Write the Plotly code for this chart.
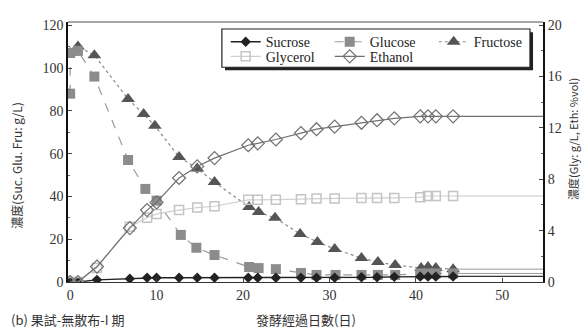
import plotly.graph_objects as go

# ---- data ----
days = [0, 0.9, 3.1, 6.9, 8.9, 10, 12.6, 14.7, 16.7, 20.6, 21.7, 23.8, 26.7, 28.5,
        30.6, 33.7, 35.5, 37.5, 40.5, 41.4, 42.3, 44.3]
sucrose = [0, 0, 1.0, 1.5, 2.0, 2.0, 2.0, 2.0, 2.0, 2.0, 2.0, 2.0, 2.0, 2.0,
           2.0, 2.2, 2.2, 2.4, 2.5, 2.5, 2.5, 2.6]
glucose_days = [0, 0, 0.9, 2.8, 6.7, 8.7, 10, 12.8, 14.6, 16.7, 20.7, 21.8, 23.8, 26.7,
                28.5, 30.7, 33.7, 35.6, 37.6, 40.5, 41.4, 42.3, 44.3]
glucose = [88, 107, 108, 96, 57, 43.5, 38, 22, 16, 12.6, 7.0, 6.5, 6.0, 4.2,
           3.3, 3.3, 3.3, 3.3, 3.3, 4.0, 4.0, 4.0, 4.0]
fructose_days = [0, 0.9, 2.8, 6.7, 8.5, 9.8, 12.6, 14.7, 16.7, 20.7, 21.8, 23.7, 26.6,
                 28.6, 30.6, 33.7, 35.6, 37.6, 40.6, 41.4, 42.3, 44.3]
fructose = [107, 110, 106, 85.5, 78.5, 73, 58.4, 53, 46.7, 35, 32.7, 30, 22.4,
            18.7, 15.4, 11.2, 9.3, 8.0, 6.5, 7.0, 6.5, 6.0]
glycerol = [0, 0, 1.1, 4.3, 5.0, 5.3, 5.6, 5.8, 5.9, 6.4, 6.4, 6.4, 6.45, 6.5,
            6.5, 6.55, 6.55, 6.55, 6.6, 6.7, 6.7, 6.7]
ethanol = [0, 0, 1.2, 4.2, 5.6, 6.2, 8.1, 9.0, 9.65, 10.65, 10.8, 11.1, 11.6, 11.9,
           12.1, 12.4, 12.6, 12.75, 12.9, 12.9, 12.9, 12.9]
x_end = 55

x_ticks = [0, 10, 20, 30, 40, 50]
left_ticks = [0, 20, 40, 60, 80, 100, 120]
right_ticks = [0, 4, 8, 12, 16, 20]

FONT = "Liberation Serif"
CJK = "Noto Sans CJK TC"

fig = go.Figure()

def ext(xs, ys, color, dash, width, yaxis):
    fig.add_trace(go.Scatter(x=[xs[-1], x_end], y=[ys[-1], ys[-1]], mode="lines",
                             line=dict(color=color, dash=dash, width=width),
                             showlegend=False, hoverinfo="skip", yaxis=yaxis))

# glycerol (right axis)
ext(days, glycerol, "#c8c8c8", "solid", 1.2, "y2")
fig.add_trace(go.Scatter(x=days, y=glycerol, name="Glycerol", yaxis="y2",
                         mode="lines+markers", legendrank=4, legend="legend2",
                         line=dict(color="#cfcfcf", width=1.2),
                         marker=dict(symbol="square-open", size=9,
                                     color="#c4c4c4", line=dict(width=1.5))))
# ethanol (right axis)
ext(days, ethanol, "#707070", "solid", 1.2, "y2")
fig.add_trace(go.Scatter(x=days, y=ethanol, name="Ethanol", yaxis="y2",
                         mode="lines+markers", legendrank=5, legend="legend2",
                         line=dict(color="#707070", width=1.2),
                         marker=dict(symbol="diamond-open", size=10,
                                     color="#707070", line=dict(width=1.2))))
# fructose
ext(fructose_days, fructose, "#9a9a9a", "solid", 1.0, "y")
fig.add_trace(go.Scatter(x=fructose_days, y=fructose, name="Fructose",
                         mode="lines+markers", legendrank=3, legend="legend",
                         line=dict(color="#8a8a8a", width=1.2, dash="dot"),
                         marker=dict(symbol="triangle-up", size=12, color="#555555")))
# glucose
ext(glucose_days, glucose, "#9a9a9a", "solid", 1.0, "y")
fig.add_trace(go.Scatter(x=glucose_days, y=glucose, name="Glucose",
                         mode="lines+markers", legendrank=2, legend="legend",
                         line=dict(color="#9a9a9a", width=1.2, dash="dash"),
                         marker=dict(symbol="square", size=10, color="#8c8c8c")))
# sucrose
ext(days, sucrose, "#333333", "solid", 1.2, "y")
fig.add_trace(go.Scatter(x=days, y=sucrose, name="Sucrose",
                         mode="lines+markers", legendrank=1, legend="legend",
                         line=dict(color="#222222", width=1.4),
                         marker=dict(symbol="diamond", size=8, color="#222222")))

legend_common = dict(orientation="h", xanchor="left", yanchor="top",
                     bgcolor="rgba(0,0,0,0)", borderwidth=0,
                     entrywidth=59, entrywidthmode="pixels",
                     font=dict(family=FONT, size=14, color="#222222"),
                     traceorder="normal", itemwidth=30)

fig.update_layout(
    width=587, height=331,
    margin=dict(l=68, r=44, t=22, b=49),
    paper_bgcolor="white", plot_bgcolor="white",
    font=dict(family=FONT, size=13, color="#333333"),
    showlegend=True,
    legend=dict(x=0.332, y=0.984, **legend_common),
    legend2=dict(x=0.332, y=0.928, **legend_common),
    xaxis=dict(range=[-0.25, 54.7], tickvals=x_ticks, ticks="inside", ticklen=4,
               showline=True, linecolor="#333333", linewidth=1.2, mirror=False,
               showgrid=False, zeroline=False,
               tickfont=dict(family=FONT, size=14, color="#333333")),
    yaxis=dict(range=[0, 121.5], tickvals=left_ticks, ticks="inside", ticklen=4,
               minor=dict(ticks="inside", ticklen=2, dtick=10, tickcolor="#666666"),
               showline=True, linecolor="#111111", linewidth=1.5,
               showgrid=False, zeroline=False,
               tickfont=dict(family=FONT, size=14, color="#333333")),
    yaxis2=dict(range=[0, 20.25], tickvals=right_ticks, ticks="inside", ticklen=4,
                minor=dict(ticks="inside", ticklen=2, dtick=2, tickcolor="#666666"),
                overlaying="y", side="right",
                showline=True, linecolor="#111111", linewidth=2,
                showgrid=False, zeroline=False,
                tickfont=dict(family=FONT, size=14, color="#333333")),
    shapes=[
        dict(type="line", xref="paper", yref="paper", x0=0, x1=1, y0=1, y1=1,
             line=dict(color="#888888", width=1.5)),
        # legend shadow
        dict(type="rect", xref="paper", yref="paper", layer="above",
             x0=0.3305, x1=0.979, y0=0.8147, y1=0.961,
             fillcolor="#222222", line=dict(width=0)),
        # legend box
        dict(type="rect", xref="paper", yref="paper", layer="above",
             x0=0.324, x1=0.9726, y0=0.826, y1=0.973,
             fillcolor="white", line=dict(color="#222222", width=1.2)),
    ],
    annotations=[
        dict(text="濃度(Suc. Glu. Fru: g/L)", xref="paper", yref="paper",
             x=-0.11, xanchor="center", y=0.45, textangle=-90, showarrow=False,
             font=dict(family=CJK, size=12, color="#333333")),
        dict(text="濃度(Gly: g/L, Eth: %vol)", xref="paper", yref="paper",
             x=1.063, xanchor="center", y=0.55, textangle=-90, showarrow=False,
             font=dict(family=CJK, size=11, color="#333333")),
        dict(text="發酵經過日數(日)", xref="paper", yref="paper",
             x=0.5, y=-0.145, yanchor="middle", showarrow=False,
             font=dict(family=CJK, size=13, color="#333333")),
        dict(text="(b) 果試-無散布-I 期", xref="paper", yref="paper",
             x=-0.125, xanchor="left", y=-0.145, yanchor="middle", showarrow=False,
             font=dict(family=CJK, size=13, color="#333333")),
    ],
)

fig.write_html("out.html")
